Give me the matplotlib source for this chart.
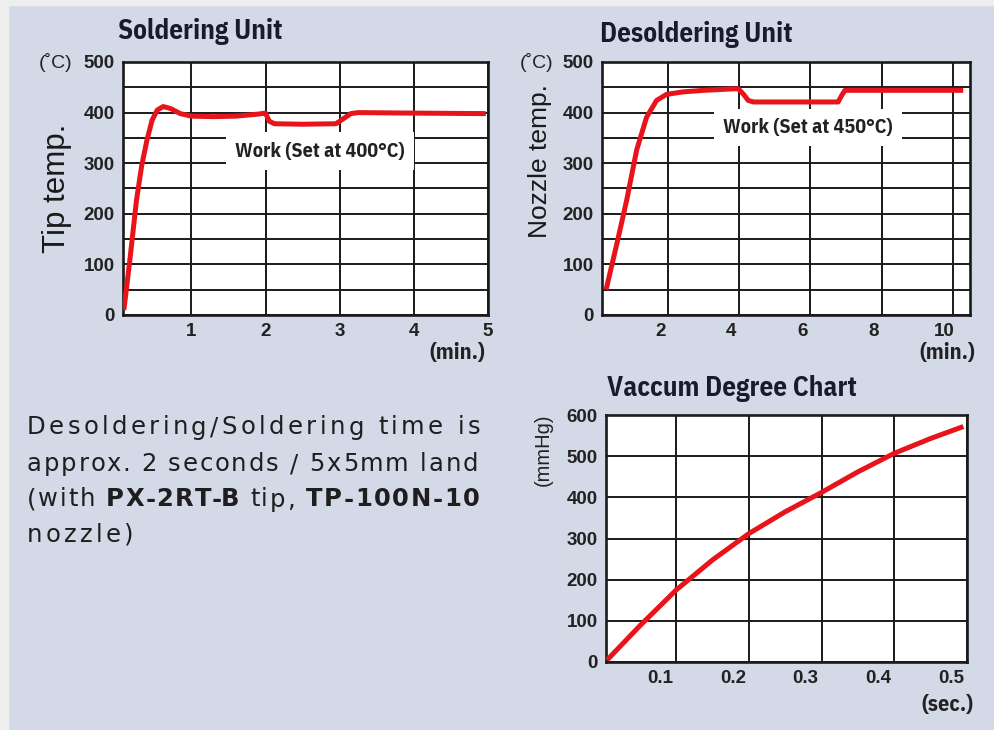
import matplotlib
matplotlib.use("Agg")
import matplotlib.pyplot as plt
import matplotlib.transforms as mtransforms
from matplotlib.ticker import MultipleLocator
from matplotlib.patches import Rectangle
from matplotlib.font_manager import FontProperties

# soldering unit: time (min) vs tip temp (C)
sold_t = [0.09, 0.17, 0.26, 0.33, 0.40, 0.47, 0.54, 0.62, 0.72, 0.85, 1.0, 1.3, 1.6, 1.9,
          2.0, 2.05, 2.12, 2.5, 2.95, 3.05, 3.15, 3.25, 4.0, 4.97]
sold_temp = [10, 108, 227, 295, 345, 385, 405, 412, 408, 398, 393, 392, 393, 397,
             399, 383, 378, 377, 378, 388, 398, 400, 399, 398]

# desoldering unit: time (min) vs nozzle temp (C)
desold_t = [0.25, 0.55, 0.83, 1.11, 1.39, 1.67, 1.95, 2.42, 3.0, 3.83, 3.97, 4.12, 4.25, 4.4,
            5.5, 6.78, 6.88, 6.97, 8.0, 10.3]
desold_temp = [50, 140, 227, 326, 391, 424, 436, 441, 444, 447, 447, 436, 424, 421,
               421, 421, 434, 444, 444, 444]

# vacuum degree: time (sec) vs mmHg
vac_t = [0.005, 0.05, 0.1, 0.15, 0.2, 0.25, 0.3, 0.35, 0.4, 0.45, 0.495]
vac_mmhg = [5, 88, 175, 248, 312, 365, 412, 462, 507, 543, 572]

note_lines = [
    [("Desoldering/Soldering time is", "normal")],
    [("approx. 2 seconds / 5x5mm land", "normal")],
    [("(with ", "normal"), ("PX-2RT-B", "bold"), (" tip, ", "normal"), ("TP-100N-10", "bold")],
    [("nozzle)", "normal")],
]

BG = "#d3d9e6"
RED = "#e8141c"
INK = "#1a1a1a"
COND = ["IBM Plex Sans Condensed", "DejaVu Sans"]
PLAIN = ["Liberation Sans", "DejaVu Sans"]
BODY = ["DejaVu Sans"]

fig = plt.figure(figsize=(9.94, 7.3), dpi=100, facecolor=BG)
W, H = 994, 730

# light frame strips at top and left
fig.patches.append(Rectangle((0, 1 - 5 / H), 1, 5 / H, transform=fig.transFigure,
                             color="#eeeeec", zorder=0))
fig.patches.append(Rectangle((0, 0), 8 / W, 1, transform=fig.transFigure,
                             color="#eeeeec", zorder=0))


def box(l, t, r, b):
    return [l / W, 1 - b / H, (r - l) / W, (b - t) / H]


def style(ax, xlim, ylim, xticks, yticks, xlab_shift):
    ax.set_facecolor("white")
    ax.set_xlim(*xlim)
    ax.set_ylim(*ylim)
    ax.set_xticks(xticks)
    ax.set_yticks(yticks)
    ax.yaxis.set_minor_locator(MultipleLocator(50) if ylim[1] == 500 else MultipleLocator(100))
    ax.grid(True, which="both", axis="y", color=INK, lw=1.4)
    ax.grid(True, which="major", axis="x", color=INK, lw=1.4)
    ax.set_axisbelow(True)
    for s in ax.spines.values():
        s.set_color(INK)
        s.set_linewidth(1.9)
    ax.tick_params(which="both", length=0, labelsize=13.5, labelcolor="#222222", pad=6)
    for lab in ax.get_xticklabels() + ax.get_yticklabels():
        lab.set_fontfamily(PLAIN)
        lab.set_fontweight("bold")
    if xlab_shift:
        off = mtransforms.ScaledTranslation(xlab_shift / 100, 0, fig.dpi_scale_trans)
        for lab in ax.get_xticklabels():
            lab.set_transform(lab.get_transform() + off)


def decorate(ax, title, title_xy, ylabel, ylabel_xy, ylabel_size, unit_y, unit_y_xy,
             unit_x, unit_x_xy):
    ax.text(*title_xy, title, transform=ax.transAxes, ha="left", va="center",
            fontsize=19.5, fontweight="bold", family=COND, color="#1a1a2a")
    if ylabel:
        ax.text(*ylabel_xy, ylabel, transform=ax.transAxes, rotation=90, ha="center",
                va="center", fontsize=ylabel_size, family=PLAIN, color="#1a1a1a")
    ax.text(*unit_y_xy, unit_y, transform=ax.transAxes, rotation=0 if unit_y == "(˚C)" else 90,
            ha="center", va="center", fontsize=14 if unit_y == "(˚C)" else 14.5,
            family=PLAIN, color="#222222")
    ax.text(*unit_x_xy, unit_x, transform=ax.transAxes, ha="center", va="center",
            fontsize=16, fontweight="bold", family=COND, color="#222222")


# ---- soldering unit
ax1 = fig.add_axes(box(123, 62, 488, 315))
style(ax1, (0.078, 5.0), (0, 500), [1, 2, 3, 4, 5], range(0, 501, 100), 0)
ax1.plot(sold_t, sold_temp, color=RED, lw=3.6, solid_capstyle="butt", zorder=5)
ax1.text(2.73, 324, "Work (Set at 400°C)", ha="center", va="center", fontsize=14.5,
         fontweight="bold", family=COND, color="#222222", zorder=6,
         bbox=dict(boxstyle="square,pad=0.45", fc="white", ec="none"))
decorate(ax1, "Soldering Unit", (-0.014, 1.12), "Tip temp.", (-0.18, 0.5), 22.5,
         "(˚C)", (-0.186, 1.0), "(min.)", (0.915, -0.15))

# ---- desoldering unit
ax2 = fig.add_axes(box(602, 62, 970, 315))
style(ax2, (0.135, 10.49), (0, 500), [2, 4, 6, 8, 10], range(0, 501, 100), -8)
ax2.plot(desold_t, desold_temp, color=RED, lw=3.6, solid_capstyle="butt", zorder=5)
ax2.text(5.94, 370, "Work (Set at 450°C)", ha="center", va="center", fontsize=14.5,
         fontweight="bold", family=COND, color="#222222", zorder=6,
         bbox=dict(boxstyle="square,pad=0.45", fc="white", ec="none"))
decorate(ax2, "Desoldering Unit", (-0.005, 1.107), "Nozzle temp.", (-0.168, 0.61), 19,
         "(˚C)", (-0.177, 1.0), "(min.)", (0.9375, -0.15))

# ---- vacuum degree chart
ax3 = fig.add_axes(box(606, 415, 967, 662))
style(ax3, (0.0034, 0.5), (0, 600), [0.1, 0.2, 0.3, 0.4, 0.5], range(0, 601, 100), -16)
ax3.plot(vac_t, vac_mmhg, color=RED, lw=3.6, solid_capstyle="butt", zorder=5)
decorate(ax3, "Vaccum Degree Chart", (0.003, 1.109), None, None, 0,
         "(mmHg)", (-0.175, 0.86), "(sec.)", (0.947, -0.174))

# ---- note text, lightly letter-spaced, with bold part numbers
renderer = fig.canvas.get_renderer()
BODY_SIZE = 17.5


def text_w(s, weight):
    fp = FontProperties(family=BODY, size=BODY_SIZE, weight=weight)
    w_s = renderer.get_text_width_height_descent(s + "l", fp, ismath=False)[0]
    w_l = renderer.get_text_width_height_descent("l", fp, ismath=False)[0]
    return w_s - w_l


y_px = [425, 462, 497, 532]
right_px = [480, 478, 480, None]
base_track = None
for line, yp, rp in zip(note_lines, y_px, right_px):
    n_chars = sum(len(p) for p, _ in line)
    natural = sum(text_w(p, w) for p, w in line)
    track = (rp - 27 - natural) / (n_chars - 1) if rp else base_track
    if base_track is None:
        base_track = track
    x_px = 27
    for piece, weight in line:
        for i, ch in enumerate(piece):
            if ch != " ":
                fig.text((x_px + text_w(piece[:i], weight) + i * track) / W, 1 - yp / H, ch,
                         ha="left", va="center_baseline", fontsize=BODY_SIZE,
                         fontweight=weight, family=BODY, color="#1e1e1e")
        x_px += text_w(piece, weight) + len(piece) * track

fig.savefig("out.png", dpi=100, facecolor=BG)
